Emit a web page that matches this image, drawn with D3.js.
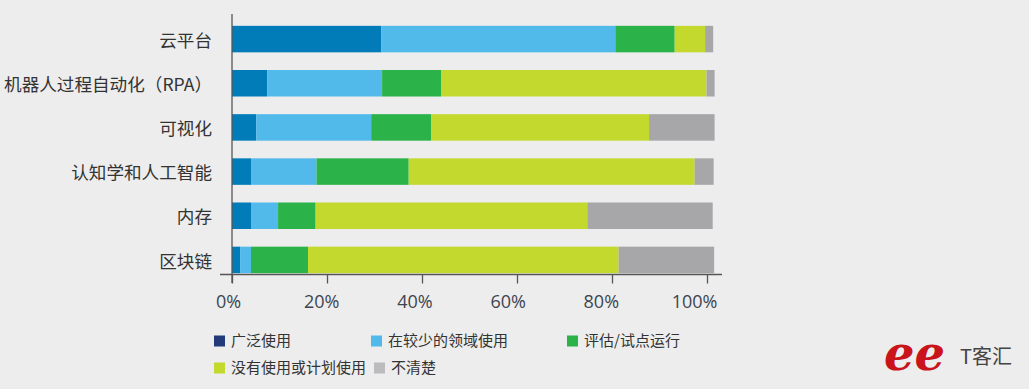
<!DOCTYPE html>
<html>
<head>
<meta charset="utf-8">
<script src="https://cdn.jsdelivr.net/npm/d3@7"></script>
<style>
  body { margin: 0; background: #ededed; }
  svg { display: block; }
</style>
</head>
<body>
<div class="box"></div>
<script>
// data (percent of respondents)
const categories = ["云平台", "机器人过程自动化（RPA）", "可视化", "认知学和人工智能", "内存", "区块链"]
const seriesNames = ["广泛使用", "在较少的领域使用", "评估/试点运行", "没有使用或计划使用", "不清楚"]
const wide    = [31.4,  7.4,  5.1,  4.0,  4.0,  1.7]
const limited = [49.3, 24.2, 24.2, 13.8,  5.7,  2.3]
const pilot   = [12.5, 12.4, 12.6, 19.4,  7.9, 12.0]
const none    = [ 6.4, 55.9, 45.9, 60.2, 57.2, 65.4]
const unclear = [ 1.7,  1.7, 13.8,  4.0, 26.4, 20.1]
const tickValues = [0, 20, 40, 60, 80, 100]

const barColors = ["#017cb8", "#52baea", "#2bb34a", "#c4d92e", "#a7a7aa"]
const legendColors = ["#233a7a", "#52baea", "#2bb34a", "#c4d92e", "#bcbcbf"]

const boxWidth = 1029
const boxHeight = 389

const rows = categories.map((c, i) => {
    const r = { cat: c }
    seriesNames.forEach((s, j) => r[s] = [wide, limited, pilot, none, unclear][j][i])
    return r
})
const stacked = d3.stack().keys(seriesNames)(rows)

const x = d3.scaleLinear().domain([0, 100]).range([232, 707])
const y = d3.scaleBand().domain(categories).range([17, 282]).paddingInner(0.4).paddingOuter(0.2)

const svg = d3.select('.box')
              .append('svg')
              .attr('width', boxWidth)
              .attr('height', boxHeight)

svg.append('rect').attr('width', boxWidth).attr('height', boxHeight).attr('fill', '#ededed')

// bars
svg.selectAll('g.series')
   .data(stacked).enter()
   .append('g')
   .attr('fill', (d, i) => barColors[i])
   .selectAll('rect')
   .data(d => d).enter()
   .append('rect')
   .attr('x', d => x(d[0]))
   .attr('width', d => x(d[1]) - x(d[0]))
   .attr('y', d => y(d.data.cat))
   .attr('height', y.bandwidth())

// x axis
const xAxis = svg.append('g')
   .attr('transform', 'translate(0, 274.5)')
   .call(d3.axisBottom(x).tickValues(tickValues).tickSize(9).tickPadding(12).tickFormat(d => d + '%'))
xAxis.select('.domain').remove()
xAxis.selectAll('.tick line').attr('stroke', '#555').attr('stroke-width', 1.3)
xAxis.selectAll('.tick text')
     .attr('x', d => -(4 + d * 0.09))
     .attr('fill', '#3d4550')
     .style('font-family', '"Open Sans", sans-serif')
     .style('font-size', '18px')
svg.append('line').attr('x1', 220).attr('x2', 722).attr('y1', 274.5).attr('y2', 274.5)
   .attr('stroke', '#555').attr('stroke-width', 1.3)

// y axis
const yAxis = svg.append('g')
   .attr('transform', 'translate(232, 2)')
   .call(d3.axisLeft(y).tickSize(0).tickPadding(20))
yAxis.select('.domain').remove()
yAxis.selectAll('.tick text')
     .attr('fill', '#333')
     .style('font-family', '"Noto Sans CJK SC", sans-serif')
     .style('font-size', '17.6px')
svg.append('line').attr('x1', 232).attr('x2', 232).attr('y1', 14).attr('y2', 283)
   .attr('stroke', '#555').attr('stroke-width', 1.3)

// legend
const legendPos = [[214, 341], [371, 341], [567, 341], [214, 368], [374, 368]]
const legend = svg.selectAll('g.legend')
   .data(seriesNames).enter()
   .append('g')
   .attr('transform', (d, i) => `translate(${legendPos[i][0]}, ${legendPos[i][1]})`)
legend.append('rect')
   .attr('x', 0).attr('y', -5.5).attr('width', 11).attr('height', 11)
   .attr('fill', (d, i) => legendColors[i])
legend.append('text')
   .attr('x', 17).attr('y', 0).attr('dy', '0.35em')
   .attr('fill', '#333')
   .style('font-family', '"Noto Sans CJK SC", sans-serif')
   .style('font-size', '15px')
   .text(d => d)

// watermark
svg.append('text')
   .attr('x', 884).attr('y', 370)
   .attr('fill', '#c8141a')
   .style('font-family', '"DejaVu Serif", serif')
   .style('font-style', 'italic')
   .style('font-weight', 'bold')
   .style('font-size', '48px')
   .text('ee')
svg.append('text')
   .attr('x', 960).attr('y', 364)
   .attr('fill', '#444')
   .style('font-family', '"Noto Sans CJK SC", sans-serif')
   .style('font-size', '20px')
   .text('T客汇')
</script>
</body>
</html>
